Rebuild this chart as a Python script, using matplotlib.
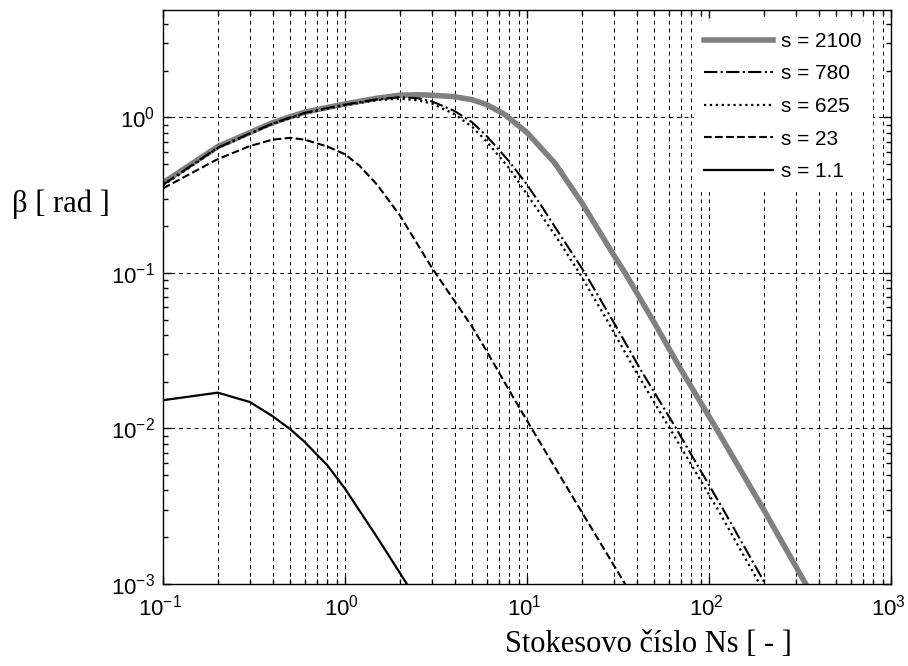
import matplotlib.pyplot as plt
import matplotlib.transforms as mtransforms

plt.rcParams['font.family'] = 'Liberation Sans'
plt.rcParams['mathtext.fontset'] = 'custom'
plt.rcParams['mathtext.rm'] = 'Liberation Sans'
plt.rcParams['mathtext.it'] = 'Liberation Sans:italic'
plt.rcParams['mathtext.default'] = 'rm'

# Curves: Stokes number Ns vs beta [rad]
ns_2100 = [0.1, 0.2, 0.3, 0.4, 0.5, 0.6, 0.8, 1.0, 1.5, 2.0, 2.5, 3.0, 4.0, 5.0, 6.0, 7.5,
           10, 14.2, 20, 30, 34.6, 50, 70, 108, 200, 340, 400]
beta_2100 = [0.38, 0.65, 0.80, 0.925, 1.01, 1.08, 1.16, 1.22, 1.33, 1.39, 1.40, 1.39, 1.36,
             1.30, 1.21, 1.05, 0.80, 0.51, 0.283, 0.13, 0.10, 0.048, 0.024, 0.0103, 0.003,
             0.001, 0.00072]

ns_780 = [0.1, 0.2, 0.3, 0.4, 0.5, 0.6, 0.8, 1.0, 1.5, 2.0, 2.5, 3.0, 4.0, 5.0, 6.0, 8.0,
          10, 12, 15, 18, 20.8, 30, 42, 65, 120, 204, 240]
beta_780 = [0.37, 0.64, 0.79, 0.915, 1.0, 1.07, 1.15, 1.21, 1.31, 1.35, 1.33, 1.27, 1.10,
            0.93, 0.76, 0.52, 0.37, 0.27, 0.18, 0.13, 0.10, 0.048, 0.024, 0.0103, 0.003,
            0.001, 0.00072]

ns_625 = [0.1, 0.2, 0.3, 0.4, 0.5, 0.6, 0.8, 1.0, 1.5, 2.0, 2.5, 3.0, 4.0, 5.0, 6.0, 8.0,
          10, 12, 15, 19.4, 28, 39, 60, 112, 190, 230]
beta_625 = [0.365, 0.635, 0.785, 0.91, 0.99, 1.06, 1.14, 1.20, 1.29, 1.32, 1.29, 1.23, 1.05,
            0.87, 0.70, 0.47, 0.32, 0.235, 0.16, 0.10, 0.048, 0.024, 0.0103, 0.003, 0.001,
            0.00068]

ns_23 = [0.1, 0.2, 0.3, 0.4, 0.5, 0.6, 0.8, 1.0, 1.2, 1.5, 2.0, 3.0, 4.0, 5.0, 6.0, 8.0,
         10.6, 20, 34.6, 40]
beta_23 = [0.35, 0.54, 0.655, 0.72, 0.74, 0.72, 0.65, 0.58, 0.49, 0.37, 0.235, 0.108, 0.066,
           0.045, 0.0315, 0.0175, 0.01, 0.0029, 0.001, 0.00075]

ns_1_1 = [0.1, 0.2, 0.3, 0.4, 0.5, 0.6, 0.7, 0.8, 1.0, 1.5, 2.0, 2.5]
beta_1_1 = [0.0152, 0.0170, 0.0148, 0.0120, 0.0099, 0.0082, 0.0068, 0.0058, 0.0041, 0.0020,
            0.00118, 0.00078]

labels = ['s = 2100', 's = 780', 's = 625', 's = 23', 's = 1.1']

fig = plt.figure(figsize=(9.08, 6.66), dpi=100)
ax = fig.add_axes([163 / 908, 1 - 584 / 666, 728 / 908, 574 / 666])

ax.plot(ns_2100, beta_2100, color='#808080', lw=4, label=labels[0])
ax.plot(ns_780, beta_780, color='k', lw=1.5, linestyle='-.', label=labels[1])
ax.plot(ns_625, beta_625, color='k', lw=1.6, linestyle=':', label=labels[2])
ax.plot(ns_23, beta_23, color='k', lw=1.5, linestyle='--', label=labels[3])
ax.plot(ns_1_1, beta_1_1, color='k', lw=1.6, label=labels[4])

ax.set_xscale('log')
ax.set_yscale('log')
ax.set_xlim(0.1, 1000)
ax.set_ylim(1e-3, 4.91)

# grid: all x decades + minors, y majors only
ax.grid(True, which='both', axis='x', color='k', linestyle=(0, (4, 4)), linewidth=0.7)
ax.grid(True, which='major', axis='y', color='k', linestyle=(0, (4, 4)), linewidth=0.7)

ax.tick_params(which='both', direction='in', top=True, right=True, width=1)
ax.tick_params(which='major', length=6, labelsize=16)
ax.tick_params(which='minor', length=3.5)
ax.tick_params(axis='x', pad=7.5)
ax.tick_params(axis='y', pad=6)
for sp in ax.spines.values():
    sp.set_linewidth(1)

offset = mtransforms.ScaledTranslation(-3 / 100, 0, fig.dpi_scale_trans)
for lab in ax.get_xticklabels():
    lab.set_transform(lab.get_transform() + offset)

leg = ax.legend(loc='upper right', bbox_to_anchor=(0.974, 0.98), fontsize=15,
                handlelength=3.3, handletextpad=0.4, labelspacing=0.65,
                frameon=True, fancybox=False, edgecolor='white', framealpha=1,
                borderaxespad=0, borderpad=0.5)

fig.text(12 / 908, 1 - 204 / 666, 'β [ rad ]', family='Liberation Serif', fontsize=22,
         ha='left', va='center')
fig.text(648 / 908, 1 - 645 / 666, 'Stokesovo číslo Ns [ - ]', family='Liberation Serif',
         fontsize=22, ha='center', va='center')

fig.savefig('out.png', dpi=100)
